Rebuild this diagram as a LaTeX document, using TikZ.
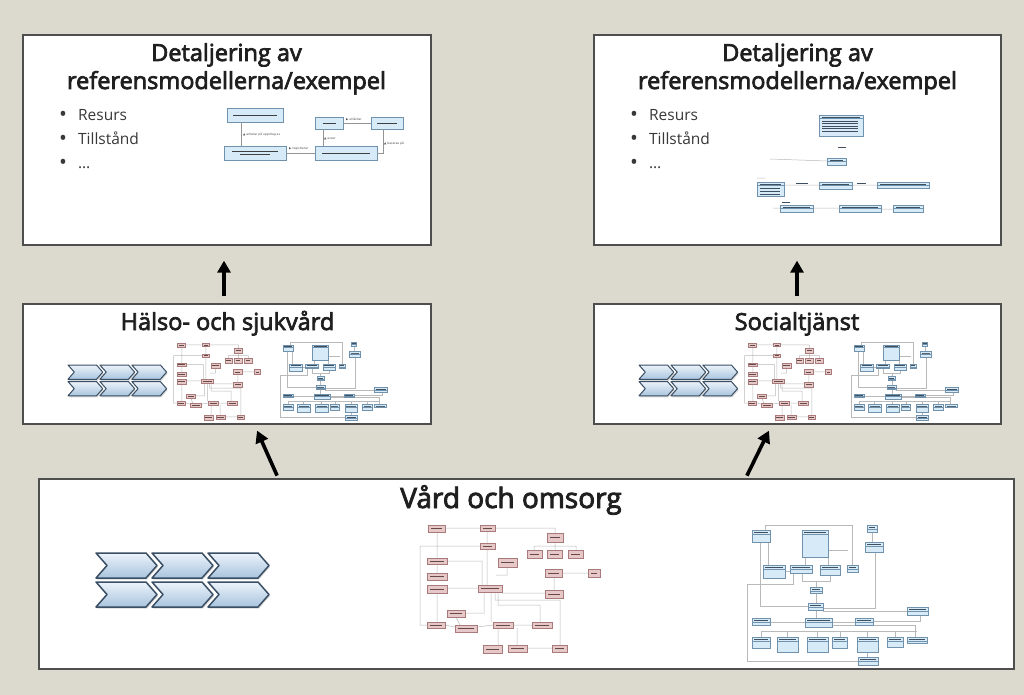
\documentclass[tikz,border=0pt]{standalone}
\usepackage{fontspec}
\setmainfont{Open Sans}
\newfontfamily\titlefont{Open Sans}[BoldFont={*},BoldFeatures={FakeBold=3}]
\newfontfamily\labelfont{DejaVu Sans}
\usetikzlibrary{arrows.meta,shadows}
\definecolor{slidebg}{RGB}{220,218,207}
\definecolor{panelline}{RGB}{78,78,78}
\definecolor{chevtop}{RGB}{236,243,250}
\definecolor{chevfill}{RGB}{168,196,222}
\definecolor{chevline}{RGB}{58,78,100}
\definecolor{umlblue}{RGB}{214,234,248}
\definecolor{umlblueline}{RGB}{112,146,172}
\definecolor{umlpink}{RGB}{230,200,200}
\definecolor{umlpinkline}{RGB}{168,122,122}
\definecolor{umlwire}{RGB}{185,185,185}
\newcommand\blur[1]{\rule{#1pt}{0.9pt}}
\newcommand\bigdot{\raisebox{-1pt}{\fontsize{21}{18}\selectfont\textbullet}}

\tikzset{
  chev/.style={draw=chevline,line width=1.5pt,line join=round,
               top color=chevtop,bottom color=chevfill,
               drop shadow={shadow xshift=1pt,shadow yshift=-1.5pt,opacity=0.3}},
  wire/.style={draw=umlwire,line width=0.5pt},
  pbox/.style={draw=umlpinkline,fill=umlpink,line width=0.5pt},
  bbox/.style={draw=umlblueline,fill=umlblue,line width=0.5pt},
  ptext/.style={draw=umlpinkline!60!black,line width=0.6pt},
  btext/.style={draw=umlblueline!55!black,line width=0.5pt},
  chevrons/.pic={
    \foreach \r in {0,1}
      \foreach \c in {0,1,2}
        \draw[chev] (56*\c,29*\r) -- ++(50,0) -- ++(11,12.5) -- ++(-11,12.5)
          -- ++(-50,0) -- ++(11,-12.5) -- cycle;
  },
  pinkmodel/.pic={
    \draw[wire] (45,13) -- (80,13) (95,13) -- (155,13) -- (155,18) (87,16) -- (87,28)
      (37,17) -- (37,43) (155,27) -- (155,35) (134,31) -- (176,31)
      (134,31) -- (134,35) (176,31) -- (176,35) (80,31) -- (20,31) -- (20,110) -- (27,110)
      (87,34) -- (87,70) (37,49) -- (37,58) (47,46) -- (82,46) -- (82,70)
      (107,52) -- (107,60) -- (96,60) (162,58) -- (188,58) (154,62) -- (154,75)
      (47,73) -- (78,73) (102,78) -- (145,78) (95,77) -- (95,85) -- (160,85) -- (160,130)
      (98,77) -- (98,90) -- (140,90) -- (140,107) (91,77) -- (91,107)
      (84,77) -- (84,98) -- (65,98) (37,78) -- (37,107) (45,110) -- (55,112)
      (77,112) -- (93,110) (113,110) -- (132,110) (98,113) -- (98,130)
      (117,113) -- (117,130) (127,133) -- (152,133) (56,102) -- (60,110);
    \foreach \a/\b/\c/\d in {28/10/45/17, 80/10/95/16, 147/18/163/27, 80/28/95/34,
        127/35/142/43, 147/35/162/43, 168/35/183/43, 27/43/47/49, 98/43/117/52,
        27/58/47/65, 145/54/162/62, 188/54/200/62, 27/70/47/78, 78/70/102/77,
        145/75/163/83, 47/95/65/102, 27/107/45/113, 55/110/77/117, 93/107/113/113,
        132/107/152/113, 83/130/102/138, 108/130/127/137, 152/130/167/137}{
      \draw[pbox] (\a,\b) rectangle (\c,\d);
      \draw[ptext] (\a+3,{(\b+\d)/2}) -- (\c-3,{(\b+\d)/2});
    }
  },
  bluemodel/.pic={
    \draw[wire] (35,15) -- (35,10) -- (122,10) -- (122,50) (38,27) -- (38,50)
      (30,27) -- (30,91) -- (78,91) (75,42) -- (75,50) (98,42) -- (98,50)
      (98,35) -- (118,35) (55,56) -- (60,56) (72,58) -- (72,66) -- (100,66) -- (100,60)
      (86,66) -- (86,72) (86,78) -- (86,88) (86,95) -- (86,103)
      (145,37) -- (145,93) -- (93,93) (142,17) -- (142,27) (93,96) -- (177,96)
      (40,107) -- (75,107) (102,107) -- (125,107) (143,106) -- (190,106) -- (190,100)
      (102,110) -- (185,110) -- (185,122) (31,116) -- (187,116)
      (31,116) -- (31,122) (57,116) -- (57,122) (87,116) -- (87,122)
      (110,116) -- (110,122) (137,116) -- (137,122) (165,116) -- (165,122)
      (63,58) -- (63,69) -- (17,69) -- (17,146) -- (128,146) (137,137) -- (137,142);
    \foreach \a/\b/\c/\d in {22/15/40/27, 72/15/98/42, 137/10/147/17, 135/27/153/37,
        33/50/55/63, 60/50/82/58, 90/50/110/60, 117/50/128/57, 80/72/92/78,
        78/88/93/95, 177/92/198/100, 22/103/40/110, 75/103/102/112, 125/103/143/110,
        22/122/40/133, 47/122/68/137, 77/122/98/137, 102/122/117/133,
        127/122/148/137, 157/122/173/132, 177/122/197/128, 128/142/148/150}{
      \draw[bbox] (\a,\b) rectangle (\c,\d);
      \draw[btext] (\a+2,\b+2.5) -- (\c-2,\b+2.5);
      \draw[bbox] (\a,\b+4.5) -- (\c,\b+4.5);
    }
  }
}

\begin{document}
\begin{tikzpicture}[x=1pt,y=-1pt,
    panel/.style={draw=panelline,line width=1.3pt,fill=white,rectangle,inner sep=0pt},
    title/.style={font=\titlefont\bfseries\fontsize{23.5}{28}\selectfont,text=black!88,anchor=base,inner sep=0pt},
    bigtitle/.style={font=\titlefont\bfseries\fontsize{28}{32}\selectfont,text=black!88,anchor=base,inner sep=0pt},
    point/.style={font=\fontsize{15.5}{18}\selectfont,text=black!78,anchor=base west,inner sep=0pt},
    ubox/.style={draw=umlblueline,fill=umlblue,line width=0.5pt,rectangle,inner sep=0pt,
                 font=\fontsize{3}{3.6}\selectfont,align=center,text=black!75},
    uwire/.style={draw=umlwire!80!black,line width=0.5pt},
    ulabel/.style={font=\labelfont\fontsize{3}{3.6}\selectfont,text=black!70,
                   anchor=west,inner sep=0pt},
    bigarrow/.style={line width=3.6pt,-{Triangle[length=12pt,width=13pt]}}
  ]
  \fill[slidebg] (0,0) rectangle (1024,695);
  \useasboundingbox (0,0) rectangle (1024,695);

  \node[panel,minimum width=408pt,minimum height=210pt] (detL) at (227,140) {};
  \node[panel,minimum width=407pt,minimum height=210pt] (detR) at (797.5,140) {};
  \node[panel,minimum width=408pt,minimum height=120pt] (hsv) at (227,364) {};
  \node[panel,minimum width=407pt,minimum height=120pt] (soc) at (797.5,364) {};
  \node[panel,minimum width=975pt,minimum height=190pt] (vo) at (526.5,574) {};

  \node[title] (detLa) at (226.5,61) {Detaljering av};
  \node[title] (detLb) at (226.5,89) {referensmodellerna/exempel};
  \node[title] (detRa) at (797.5,61) {Detaljering av};
  \node[title] (detRb) at (797.5,89) {referensmodellerna/exempel};
  \node[title] (hsvt) at (227.5,330) {Hälso- och sjukvård};
  \node[title] (soct) at (797,330) {Socialtjänst};
  \node[bigtitle] (vot) at (511,508) {Vård och omsorg};

  \node[point] (resL) at (59,121) {\bigdot\hspace{11pt}Resurs};
  \node[point] (tilL) at (59,144.5) {\bigdot\hspace{11pt}Tillstånd};
  \node[point] (dotL) at (59,168) {\bigdot\hspace{11pt}\dots};
  \node[point] (resR) at (630,121) {\bigdot\hspace{11pt}Resurs};
  \node[point] (tilR) at (630,144.5) {\bigdot\hspace{11pt}Tillstånd};
  \node[point] (dotR) at (630,168) {\bigdot\hspace{11pt}\dots};

  \node[ubox,minimum width=56pt,minimum height=14pt] (uA) at (255,115) {\blur{44}};
  \node[ubox,minimum width=28pt,minimum height=12pt] (uB) at (329,123) {\blur{13}};
  \node[ubox,minimum width=32pt,minimum height=12pt] (uC) at (387,123) {\blur{20}};
  \node[ubox,minimum width=62pt,minimum height=14pt] (uD) at (255,153) {\blur{46}\\\blur{30}};
  \node[ubox,minimum width=62pt,minimum height=14pt] (uE) at (346,153) {\blur{48}};
  \draw[uwire] ([xshift=-14pt]uA.south) -- ([xshift=-14pt]uA.south |- uD.north);
  \draw[uwire] (uD.east) -- (uE.west);
  \draw[uwire] (uB.east) -- (uC.west);
  \draw[uwire] ([xshift=-6pt]uB.south) -- ([xshift=-6pt]uB.south |- uE.north);
  \draw[uwire] ([xshift=-4pt]uC.south) -- ([xshift=-4pt]uC.south |- uE.east) -- (uE.east);
  \node[ulabel] (lA) at (243,134) {▲ arbetar på uppdrag av};
  \node[ulabel] (lD) at (289,149) {▶ registrerar};
  \node[ulabel] (lB) at (346,119.5) {▶ utfärdar};
  \node[ulabel] (lE) at (324,139) {▲ avser};
  \node[ulabel] (lC) at (384,143) {▲ baseras på};

  \draw[wire] (770,159) -- (827,161) (784,185) -- (819,185) (852,185) -- (877,185)
    (773,208) -- (780,208) (813,208) -- (839,208) (881,209) -- (893,209)
    (757,178) -- (765,178);
  \foreach \a/\b/\c/\d in {819/115/863/136, 827/158/846/165, 757/182/784/196,
      819/182/852/189, 877/182/929/188, 780/205/813/212, 839/205/881/212, 893/205/923/212}{
    \draw[bbox] (\a,\b) rectangle (\c,\d);
    \draw[btext,line width=0.35pt] (\a+3,\b+1.8) -- (\c-3,\b+1.8);
    \draw[bbox] (\a,\b+3.6) -- (\c,\b+3.6);
  }
  \foreach \t in {6,8.5,11,13.5,16}
    \draw[btext,line width=0.3pt] (822,115+\t) -- (858,115+\t);
  \foreach \t in {6,9,12}
    \draw[btext,line width=0.3pt] (760,182+\t) -- (780,182+\t);
  \draw[btext,line width=0.3pt] (838,147) -- (846,147) (782,202) -- (790,202)
    (796,183.5) -- (808,183.5) (857,183.5) -- (866,183.5);

  \pic at (96,553) {chevrons};
  \pic[scale=0.57,chev/.append style={line width=1pt}] at (68,365) {chevrons};
  \pic[scale=0.57,chev/.append style={line width=1pt}] at (639,365) {chevrons};

  \pic at (400,515) {pinkmodel};
  \pic at (730,515) {bluemodel};
  \pic[xscale=0.48,yscale=0.6] at (164,337) {pinkmodel};
  \pic[xscale=0.59,yscale=0.557] at (270,336.4) {bluemodel};
  \pic[xscale=0.48,yscale=0.6] at (735,337) {pinkmodel};
  \pic[xscale=0.59,yscale=0.557] at (841,336.4) {bluemodel};

  \draw[bigarrow,shorten <=7pt,shorten >=15pt] ([xshift=-3pt]hsv.north) -- ([xshift=-3pt]detL.south);
  \draw[bigarrow,shorten <=7pt,shorten >=15pt] ([xshift=-0.5pt]soc.north) -- ([xshift=-0.5pt]detR.south);
  \draw[bigarrow,shorten <=3pt,shorten >=6.5pt] ([xshift=-248.2pt]vo.north) -- ([xshift=27.4pt]hsv.south);
  \draw[bigarrow,shorten <=3pt,shorten >=6.7pt] ([xshift=219.1pt]vo.north) -- ([xshift=-25.6pt]soc.south);
\end{tikzpicture}
\end{document}
